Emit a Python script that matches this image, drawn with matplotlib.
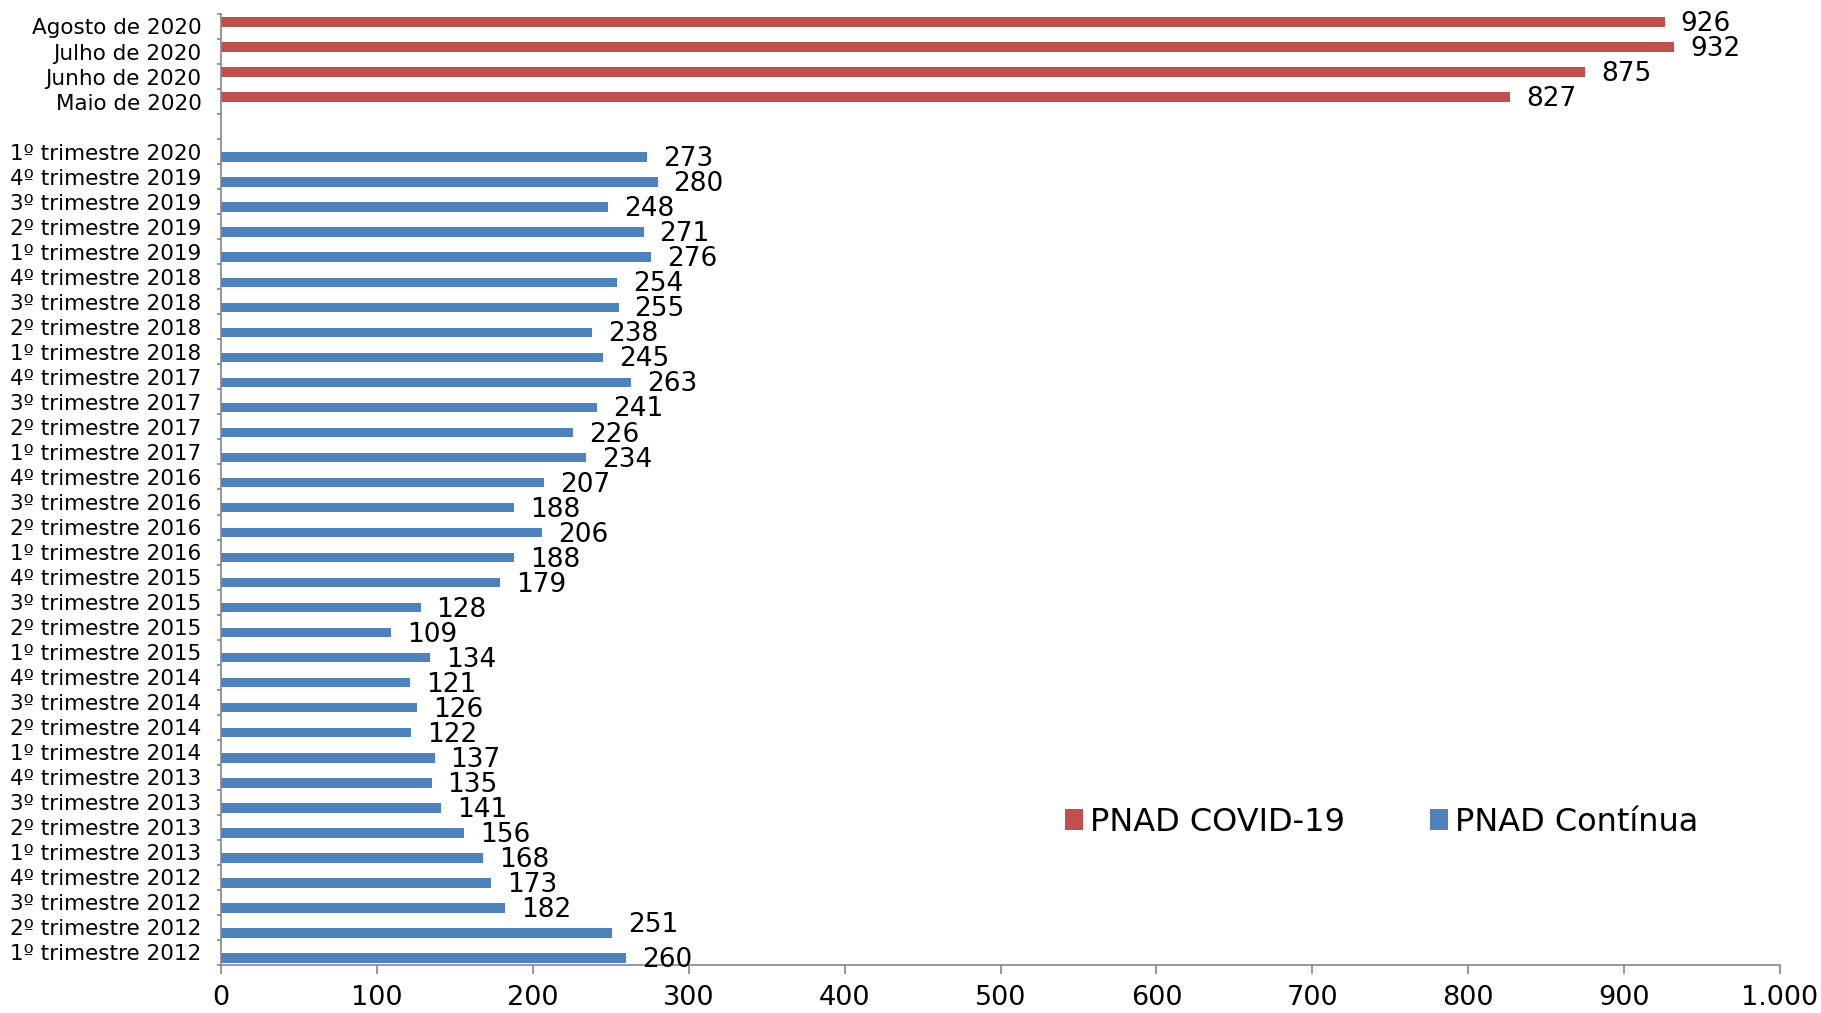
import matplotlib; matplotlib.use('agg')
import matplotlib.pyplot as plt
import numpy as np

plt.rcParams['font.family'] = ['DejaVu Sans']

# PNAD Contínua, trimestral (1º tri 2012 .. 1º tri 2020)
trimestres = ['%dº trimestre %d' % (q, a) for a in range(2012, 2021) for q in range(1, 5)][:33]
continua = [260, 251, 182, 173,
            168, 156, 141, 135,
            137, 122, 126, 121,
            134, 109, 128, 179,
            188, 206, 188, 207,
            234, 226, 241, 263,
            245, 238, 255, 254,
            276, 271, 248, 280,
            273]
# PNAD COVID-19, mensal
meses = ['Maio de 2020', 'Junho de 2020', 'Julho de 2020', 'Agosto de 2020']
covid = [827, 875, 932, 926]

azul = '#4F81BD'
vermelho = '#C0504D'
cinza = '#868686'

labels = trimestres + [''] + meses
n = len(labels)
y_tri = np.arange(len(trimestres))
y_mes = np.arange(len(trimestres) + 1, n)

fig = plt.figure(figsize=(18.21, 10.13), dpi=100)
ax = fig.add_axes([0.1214, 0.0474, 0.8561, 0.9388])

h = 0.38
b1 = ax.barh(y_tri - 0.22, continua, height=h, color=azul, label='PNAD Contínua')
b2 = ax.barh(y_mes + 0.18, covid, height=h, color=vermelho, label='PNAD COVID-19')

# rótulos de dados
for yy, v in zip(y_tri - 0.22, continua):
    dy = 0.4 if v == 251 else 0.0
    ax.annotate(str(v), (v, yy + dy), xytext=(11.5, -1.5), textcoords='offset points',
                va='center', ha='left', fontsize=19, color='black')
for yy, v in zip(y_mes + 0.18, covid):
    ax.annotate(str(v), (v, yy), xytext=(11.5, -1.5), textcoords='offset points',
                va='center', ha='left', fontsize=19, color='black')

ax.set_xlim(0, 1000)
ax.set_ylim(-0.5, n - 0.5)
ax.set_xticks(np.arange(0, 1001, 100))
ax.set_xticklabels(['1.000' if t == 1000 else str(t) for t in range(0, 1001, 100)], fontsize=19.5)

# marcas entre categorias, rótulos no centro
ax.set_yticks(np.arange(-0.5, n, 1.0))
ax.set_yticklabels([])
ax.set_yticks(np.arange(n), minor=True)
ax.set_yticklabels(labels, minor=True, fontsize=15.5)
ax.tick_params(axis='y', which='minor', length=0, pad=14)
ax.tick_params(axis='y', which='major', length=3, width=1.2, color=cinza, direction='out')
ax.tick_params(axis='x', length=6.5, width=1.2, color=cinza, pad=8)

for s in ['top', 'right']:
    ax.spines[s].set_visible(False)
for s in ['left', 'bottom']:
    ax.spines[s].set_color(cinza)
    ax.spines[s].set_linewidth(1.2)

leg = ax.legend(handles=[b2, b1], loc='center left', bbox_to_anchor=(0.5848, 0.1885),
                bbox_transform=fig.transFigure, ncol=2, frameon=False, fontsize=23,
                borderpad=0, borderaxespad=0,
                handlelength=0.56, handleheight=0.62, handletextpad=0.22, columnspacing=2.66)

plt.savefig('out.png', dpi=100)
